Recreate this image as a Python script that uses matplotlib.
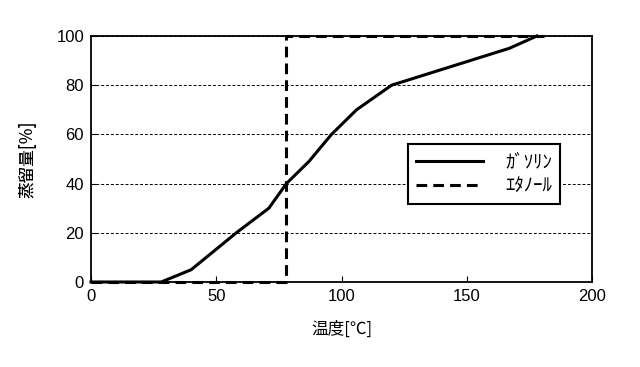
import matplotlib
import matplotlib.pyplot as plt

plt.rcParams['font.family'] = ['Liberation Sans', 'Noto Sans CJK JP', 'DejaVu Sans']

# data
gas_t = [0, 28, 40, 58, 71, 78, 87, 96, 106, 120, 167, 178]
gas_v = [0, 0, 5, 20, 30, 40, 49, 60, 70, 80, 95, 100]
eth_t = [0, 78, 78, 181]
eth_v = [0, 0, 100, 100]
x_ticks = [0, 50, 100, 150, 200]
y_ticks = [0, 20, 40, 60, 80, 100]

cjk = ['Noto Sans CJK JP', 'DejaVu Sans']

fig = plt.figure(figsize=(6.4, 3.67), dpi=100)
ax = fig.add_axes([91/640, 1 - 282/367, 501/640, 246/367])

ax.plot(gas_t, gas_v, color='black', linewidth=2.2, label='ｶﾞｿﾘﾝ', clip_on=False, zorder=3)
ax.plot(eth_t, eth_v, color='black', linewidth=2.2, linestyle=(0, (3.5, 2)),
        label='ｴﾀﾉｰﾙ', clip_on=False, zorder=3)

ax.set_xlim(0, 200)
ax.set_ylim(0, 100)
ax.set_xticks(x_ticks)
ax.set_yticks(y_ticks)
ax.tick_params(direction='in', length=4, labelsize=12, pad=5)
for s in ax.spines.values():
    s.set_linewidth(1.3)
ax.yaxis.grid(True, color='black', linestyle=(0, (3, 2)), linewidth=0.7)

ax.set_xlabel('温度[℃]', fontsize=12, family=cjk, labelpad=12)
ax.set_ylabel('蒸留量[%]', fontsize=12, family=cjk, fontweight='medium', labelpad=14)

leg = ax.legend(loc='upper left', bbox_to_anchor=(317/501, (282-144)/246),
                borderaxespad=0, fancybox=False, framealpha=1, edgecolor='black',
                handlelength=3.6, handletextpad=1.2, borderpad=0.4, labelspacing=0.15,
                prop={'family': cjk, 'size': 13.5})
leg.get_frame().set_linewidth(1.5)

fig.savefig('out.png', dpi=100)
